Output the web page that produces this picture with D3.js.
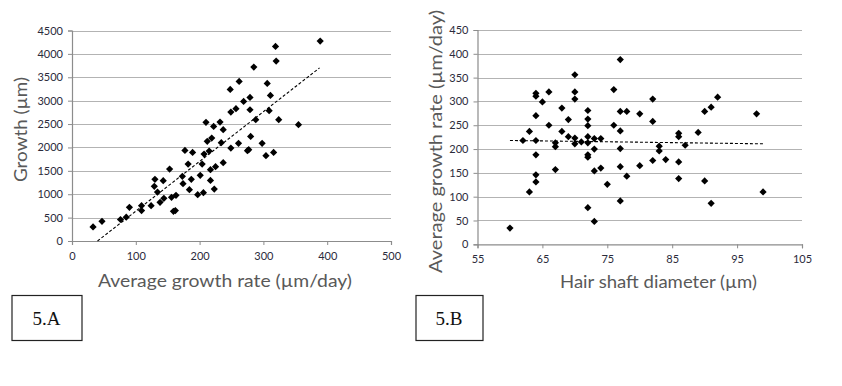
<!DOCTYPE html>
<html><head><meta charset="utf-8">
<script src="https://cdn.jsdelivr.net/npm/d3@7"></script>
<style>
body{margin:0;background:#fff;}
svg{display:block;}
</style></head>
<body>
<svg id="chart" width="842" height="386"></svg>
<script>
// ---- Data: chart 5.A (Average growth rate vs Growth) ----
const rateA = [33,47,76,85,90,109,109,124,130,129,134,138,143,144,153,156,159,162,163,173,174,177,182,184,187,189,197,201,204,206,207,210,212,215,217,217,219,222,223,225,232,234,237,237,248,249,249,257,262,261,269,275,279,279,280,277,285,288,298,304,306,309,311,316,319,320,324,355,389];
const growthA = [300,420,460,510,720,755,650,755,1318,1168,1047,826,1289,912,1538,933,634,650,976,1382,1225,1937,1645,1097,1318,1894,990,1403,1645,1033,1859,2536,2130,1923,1524,1296,2200,2450,1111,1588,2543,2101,2379,1674,3241,2756,1987,2828,3411,2087,2984,1930,3070,2806,2236,1952,3718,2593,2087,1823,3369,2785,3112,1894,4160,3846,2593,2486,4273];
const trendAx = [40,388];
const trendAy = [0,3700];
const ticksAx = [0,100,200,300,400,500];
const ticksAy = [0,500,1000,1500,2000,2500,3000,3500,4000,4500];

// ---- Data: chart 5.B (Hair shaft diameter vs Average growth rate) ----
const diamB = [60,62,63,63,64,64,64,64,64,64,64,65,66,66,67,67,67,68,68,69,69,70,70,70,70,70,71,72,72,72,72,72,72,72,72,73,73,73,73,74,74,75,76,76,77,77,77,77,77,77,78,78,80,80,82,82,82,83,83,84,86,86,86,86,87,89,90,90,91,91,92,98,99];
const rateB = [34,218,237,110,317,311,270,218,188,146,131,299,320,250,213,205,157,286,237,262,226,356,320,305,223,211,215,281,263,249,226,213,188,183,77,222,200,154,48,222,160,126,325,250,388,279,238,201,163,91,279,143,274,165,305,258,176,206,196,178,233,226,173,138,208,235,279,133,288,86,309,274,110];
const trendBx = [60,99];
const trendBy = [218,211];
const ticksBx = [55,65,75,85,95,105];
const ticksBy = [0,50,100,150,200,250,300,350,400,450];

const svg = d3.select('#chart');
const tickFont = 'Lato, "DejaVu Sans", sans-serif';
const titleFont = 'Lato, "DejaVu Sans", sans-serif';
const gridCol = '#b3b3b3', axisCol = '#8c8c8c', tickTxt = '#2b2b3b', titleCol = '#595959';

function panel(o) {
  const g = svg.append('g');
  const x = d3.scaleLinear().domain(o.xd).range([o.left, o.right]);
  const y = d3.scaleLinear().domain(o.yd).range([o.bottom, o.top]);
  // gridlines
  g.append('g').selectAll('line').data(o.yt.slice(1)).join('line')
    .attr('x1', o.left).attr('x2', o.right)
    .attr('y1', d => Math.round(y(d)) + 0.5).attr('y2', d => Math.round(y(d)) + 0.5)
    .attr('stroke', gridCol).attr('stroke-width', 1.2);
  // y axis
  const ya = d3.axisLeft(y).tickValues(o.yt).tickSize(4).tickPadding(5).tickFormat(d3.format('d'));
  const yg = g.append('g').attr('transform', `translate(${o.left},0)`).call(ya);
  // x axis
  const xa = d3.axisBottom(x).tickValues(o.xt).tickSize(4).tickPadding(7).tickFormat(d3.format('d'));
  const xg = g.append('g').attr('transform', `translate(0,${o.bottom})`).call(xa);
  [yg, xg].forEach(a => {
    a.select('.domain').attr('stroke', axisCol).attr('stroke-width', 1.2);
    a.selectAll('.tick line').attr('stroke', axisCol);
    a.selectAll('.tick text').attr('fill', tickTxt).style('font-family', tickFont).style('font-size', '11px');
  });
  // trend line
  const tl = d3.line().x(d => x(d[0])).y(d => y(d[1]));
  g.append('path').attr('d', tl(d3.zip(o.tx, o.ty)))
    .attr('fill', 'none').attr('stroke', '#000').attr('stroke-width', 1.1).attr('stroke-dasharray', '3,2');
  // points
  const sym = d3.symbol().type(d3.symbolSquare).size(26);
  g.append('g').selectAll('path').data(d3.zip(o.xs, o.ys)).join('path')
    .attr('d', sym)
    .attr('transform', d => `translate(${x(d[0])},${y(d[1])}) rotate(45)`)
    .attr('fill', '#000');
  // titles
  g.append('text').attr('x', (o.xTitleX)).attr('y', o.xTitleY).attr('text-anchor', 'middle')
    .attr('fill', titleCol).style('font-family', titleFont).style('font-size', '17px')
    .attr('textLength', o.xTitleLen).attr('lengthAdjust', 'spacingAndGlyphs')
    .text(o.xTitle);
  g.append('text').attr('transform', `translate(${o.yTitleX},${o.yTitleY}) rotate(-90)`).attr('text-anchor', 'middle')
    .attr('fill', titleCol).style('font-family', titleFont).style('font-size', '17px')
    .attr('textLength', o.yTitleLen).attr('lengthAdjust', 'spacingAndGlyphs')
    .text(o.yTitle);
  // label box
  g.append('rect').attr('x', o.boxX + 0.5).attr('y', 295.5).attr('width', o.boxW).attr('height', 45)
    .attr('fill', 'none').attr('stroke', '#222').attr('stroke-width', 1.2);
  g.append('text').attr('x', o.boxX + o.boxW / 2).attr('y', 325).attr('text-anchor', 'middle')
    .attr('fill', '#111').style('font-family', '"Liberation Serif", "DejaVu Serif", serif').style('font-size', '19px')
    .text(o.label);
}

panel({xd:[0,500], yd:[0,4500], left:72, right:391, top:30.5, bottom:241,
  xt:ticksAx, yt:ticksAy, xs:rateA, ys:growthA, tx:trendAx, ty:trendAy,
  xTitle:'Average growth rate (µm/day)', xTitleX:225, xTitleY:286.5, xTitleLen:254,
  yTitle:'Growth (µm)', yTitleX:26.5, yTitleY:129.5, yTitleLen:105,
  boxX:11.5, boxW:70, label:'5.A'});

panel({xd:[55,105], yd:[0,450], left:477.5, right:802, top:30, bottom:244.3,
  xt:ticksBx, yt:ticksBy, xs:diamB, ys:rateB, tx:trendBx, ty:trendBy,
  xTitle:'Hair shaft diameter (µm)', xTitleX:658.5, xTitleY:287.5, xTitleLen:197,
  yTitle:'Average growth rate (µm/day)', yTitleX:441.5, yTitleY:141.5, yTitleLen:263,
  boxX:415.5, boxW:67, label:'5.B'});
</script>
</body></html>
